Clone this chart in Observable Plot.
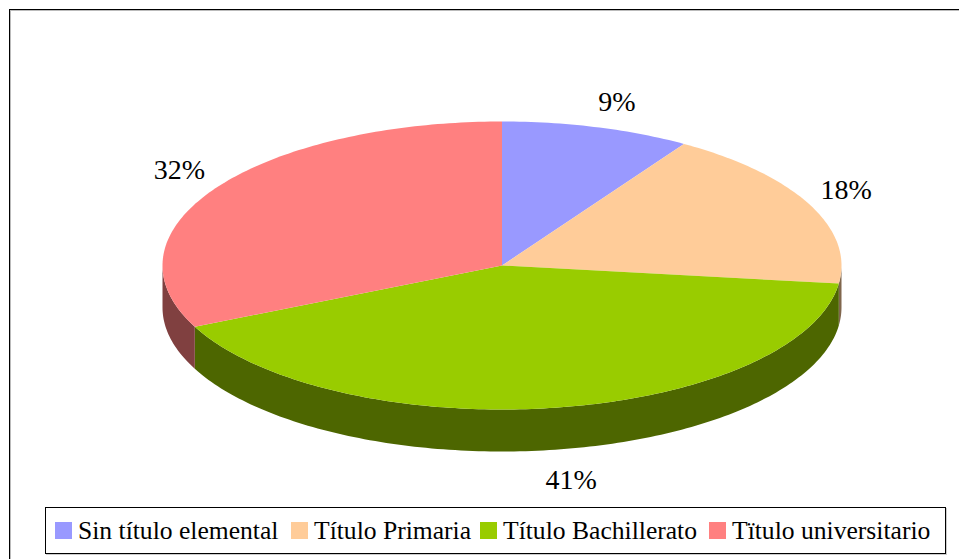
<!DOCTYPE html>
<html>
<head>
<meta charset="utf-8">
<script src="https://cdn.jsdelivr.net/npm/d3@7"></script>
<script src="https://cdn.jsdelivr.net/npm/@observablehq/plot@0.6"></script>
<style>
html,body{margin:0;padding:0;background:#fff;overflow:hidden}
#stage{position:relative;width:959px;height:559px;overflow:hidden;font-family:"Liberation Serif",serif;color:#000}
#stage svg{position:absolute;left:0;top:0;background:transparent}
#frame{position:absolute;left:9px;top:9px;width:2000px;height:2000px;border:1px solid #000;box-shadow:inset 1px 1px 0 #bbb;box-sizing:border-box}
#legend{position:absolute;left:45px;top:507px;width:901px;height:47px;box-sizing:border-box;border:1px solid #000;background:#fff;box-shadow:1px 1px 0 #ccc;display:flex;align-items:center;padding-left:9px;font-size:25.6px;white-space:nowrap}
#legend .sw{display:inline-block;width:17px;height:17px;margin-right:6px;flex:none}
#legend .it{display:flex;align-items:center;flex:none}
</style>
</head>
<body>
<div id="stage"><div id="frame"></div></div>
<script>
const categories = ["Sin título elemental", "Título Primaria", "Título Bachillerato", "Título universitario"];
const legendLabels = ["Sin título elemental", "Título Primaria", "Título Bachillerato", "Tïtulo universitario"];
const shares = [9, 18, 41, 32];
const topColors = ["#9999ff", "#ffcc99", "#99cc00", "#ff8080"];
const sideColors = ["#4d4d80", "#80664d", "#4d6600", "#804040"];

// pie model: unit ellipse, rim depth in the same units
const depth = 42 / 144;
const deg = Math.PI / 180;
const pt = (a, d = 0) => ({x: Math.sin(a * deg), y: Math.cos(a * deg) - d});

let acc = 0;
const slices = shares.map((s, i) => {
  const a0 = acc * 3.6; acc += s; const a1 = acc * 3.6;
  return {i, share: s, a0, a1, mid: (a0 + a1) / 2};
});
const arc = (a0, a1, d = 0) => {
  const n = Math.max(1, Math.ceil(Math.abs(a1 - a0)));
  return d3.range(n + 1).map(k => pt(a0 + (a1 - a0) * k / n, d));
};
const wedge = s => [{x: 0, y: 0}, ...arc(s.a0, s.a1)];
const rim = s => {
  const lo = Math.max(s.a0, 90), hi = Math.min(s.a1, 270);
  return hi > lo ? [...arc(lo, hi), ...arc(hi, lo, depth)] : null;
};

// label nudges in px relative to the radial anchor
const nudges = [[6, -2], [-9, -4], [8, 6], [7, -5]];
const labelMarks = slices.map((s, i) => {
  const p = pt(s.mid);
  const lower = p.y < 0;
  return Plot.text([{x: p.x * 1.15, y: p.y * 1.17 - (lower ? depth : 0), t: s.share + "%"}], {
    x: "x", y: "y", text: "t",
    fontSize: 28, fontFamily: "Liberation Serif", fill: "#000",
    dx: nudges[i][0], dy: nudges[i][1]
  });
});

const common = {x: "x", y: "y", stroke: "none"};
const chart = Plot.plot({
  width: 959, height: 559,
  margin: 0,
  x: {domain: [-1, 1], range: [162, 841], axis: null},
  y: {domain: [-1, 1], range: [409, 121], axis: null},
  style: {background: "transparent"},
  marks: [
    ...slices.filter(rim).map(s => Plot.line(rim(s), {...common, fill: sideColors[s.i]})),
    ...slices.map(s => Plot.line(wedge(s), {...common, fill: topColors[s.i]})),
    ...labelMarks
  ]
});
const stage = document.getElementById("stage");
stage.appendChild(chart);

const itemWidths = [236, 189, 229, 225];
const legend = d3.select(stage).append("div").attr("id", "legend");
const items = legend.selectAll(".it").data(legendLabels).join("div").attr("class", "it")
  .style("width", (d, i) => itemWidths[i] + "px");
items.append("span").attr("class", "sw").style("background", (d, i) => topColors[i]);
items.append("span").text(d => d);
</script>
</body>
</html>
